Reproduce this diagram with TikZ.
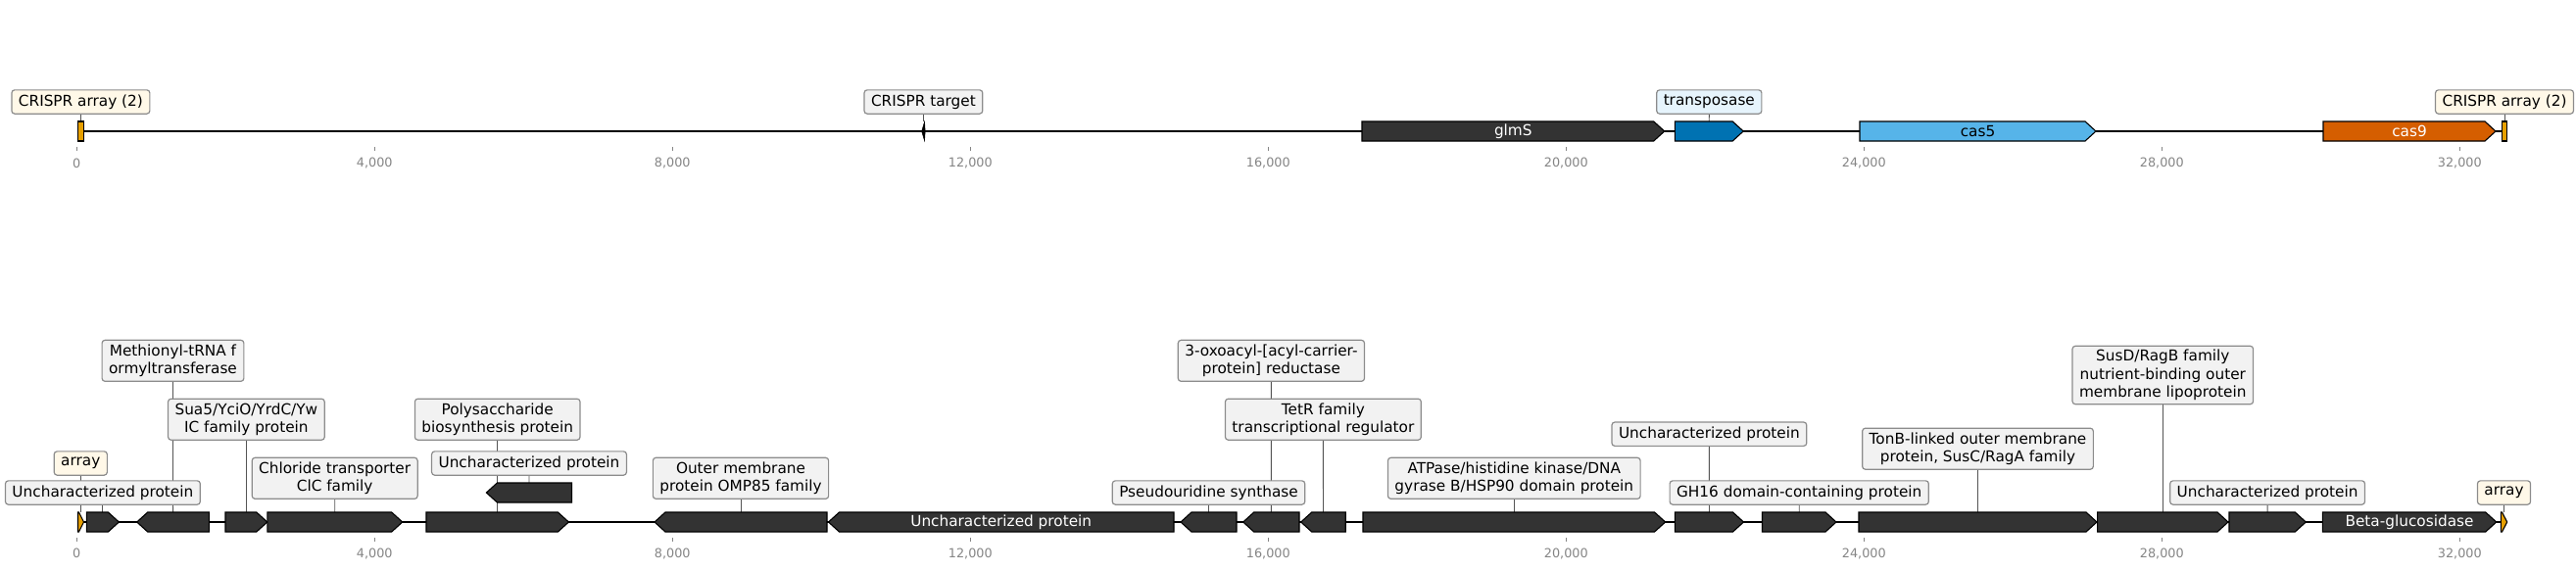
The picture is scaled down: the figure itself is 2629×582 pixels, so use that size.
\documentclass[tikz,border=0pt]{standalone}
\usepackage{fontspec}
\setmainfont{DejaVu Sans}
\usetikzlibrary{backgrounds}
\definecolor{gdark}{HTML}{333333}
\definecolor{corange}{HTML}{E69F00}
\definecolor{cblue}{HTML}{0072B2}
\definecolor{csky}{HTML}{56B4E9}
\definecolor{cverm}{HTML}{D55E00}
\definecolor{labfill}{HTML}{F2F2F2}
\definecolor{labcream}{HTML}{FFF8E8}
\definecolor{labblue}{HTML}{E6F4FC}
\definecolor{labedge}{HTML}{8C8C8C}
\definecolor{conncol}{HTML}{555555}
\definecolor{tickcol}{HTML}{858585}
\newcommand\lfont{\fontsize{15.3pt}{18.4pt}\selectfont}
\newcommand\tfont{\fontsize{12.8pt}{14pt}\selectfont}
\newcommand\geneR[5]{%
  \pgfmathsetmacro\ghead{min(11,#3-#2)}%
  \filldraw[genebox,fill=#5] (#2,#4-10) -- (#3-\ghead,#4-10) -- (#3,#4) -- (#3-\ghead,#4+10) -- (#2,#4+10) -- cycle;
  \coordinate (#1) at ({(#2+#3)/2},#4-10);}
\newcommand\geneL[5]{%
  \pgfmathsetmacro\ghead{min(11,#3-#2)}%
  \filldraw[genebox,fill=#5] (#3,#4-10) -- (#2+\ghead,#4-10) -- (#2,#4) -- (#2+\ghead,#4+10) -- (#3,#4+10) -- cycle;
  \coordinate (#1) at ({(#2+#3)/2},#4-10);}
\newcommand\geneB[5]{%
  \filldraw[genebox,fill=#5] (#2,#4-10) rectangle (#3,#4+10);
  \coordinate (#1) at ({(#2+#3)/2},#4-10);}
\tikzset{
  genebox/.style={draw=black, line width=1.1pt, line join=miter},
  genetext/.style={font=\lfont, inner sep=0pt},
  lab/.style={draw=labedge, fill=labfill, rounded corners=3pt, line width=1.2pt,
    inner xsep=7pt, inner ysep=0pt, align=center, font=\lfont},
  labone/.style={lab, minimum height=24.3pt},
  labtwo/.style={lab, minimum height=42pt},
  labthree/.style={lab, minimum height=59.4pt},
  conn/.style={draw=conncol, line width=0.9pt},
  track/.style={draw=black, line width=2.7pt},
  tickmark/.style={draw=tickcol, line width=0.8pt},
  ticklab/.style={font=\tfont, text=tickcol, inner sep=0pt}
}
\begin{document}
\begin{tikzpicture}[x=1pt,y=-1pt]
\useasboundingbox (0,0) rectangle (2629,582);

% ---------------- top track ----------------
\coordinate (ts) at (79,134);
\coordinate (te) at (2556,134);
\begin{scope}[on background layer]
\draw[track] (ts) -- (te);
\end{scope}
\geneB{tA}{79.5}{85.3}{134}{corange}
\filldraw[black] (943.6,124) -- (940.6,134) -- (943.6,144) -- (944.2,134) -- cycle;
\coordinate (tT) at (942.4,124);
\geneR{tG}{1390}{1698.7}{134}{gdark}
\geneR{tTr}{1709.3}{1779.2}{134}{cblue}
\geneR{tC5}{1898}{2139}{134}{csky}
\geneR{tC9}{2371}{2547}{134}{cverm}
\geneB{tB}{2553.5}{2558.5}{134}{corange}
\node[genetext,text=white] (tGt) at (1544.3,134) {glmS};
\node[genetext,text=black] (tC5t) at (2018.5,134) {cas5};
\node[genetext,text=white] (tC9t) at (2459,134) {cas9};

\node[labone,fill=labcream] (ltA) at (82.4,104) {CRISPR array (2)};
\node[labone] (ltT) at (942.4,104) {CRISPR target};
\node[labone,fill=labblue] (ltTr) at (1744.3,104) {transposase};
\node[labone,fill=labcream] (ltB) at (2556,104) {CRISPR array (2)};
\begin{scope}[on background layer]
\draw[conn] (ltA.south) -- (tA);
\draw[conn] (ltT.south) -- (tT);
\draw[conn] (ltTr.south) -- (tTr);
\draw[conn] (ltB.south) -- (tB);
\end{scope}

% ticks
\foreach \k/\lab in {0/0,1/{4,000},2/{8,000},3/{12,000},4/{16,000},5/{20,000},6/{24,000},7/{28,000},8/{32,000}}{
  \draw[tickmark] (78.3+304*\k,150) -- (78.3+304*\k,154);
  \node[ticklab] (tl\k) at (78.3+304*\k,166.7) {\lab};
  \draw[tickmark] (78.3+304*\k,549) -- (78.3+304*\k,553);
  \node[ticklab] (bl\k) at (78.3+304*\k,565) {\lab};
}

% ---------------- bottom track ----------------
\coordinate (bs) at (79,533);
\coordinate (be) at (2556,533);
\begin{scope}[on background layer]
\draw[track] (bs) -- (be);
\end{scope}
\filldraw[genebox,fill=corange] (79.5,523) -- (80.5,523) -- (85.5,533) -- (80.5,543) -- (79.5,543) -- cycle;
\coordinate (bA) at (82.3,523);
\geneR{g1}{88.4}{121.4}{533}{gdark}
\geneL{g2}{139.7}{213.4}{533}{gdark}
\geneR{g3}{230}{272.8}{533}{gdark}
\geneR{g4}{272.8}{410.7}{533}{gdark}
\geneR{g5}{435}{580.4}{533}{gdark}
\geneL{g5b}{496.4}{583.5}{503}{gdark}
\geneL{g6}{668}{844}{533}{gdark}
\geneL{g7}{845.5}{1198}{533}{gdark}
\geneL{g8}{1205}{1262}{533}{gdark}
\geneL{g9}{1268.7}{1326}{533}{gdark}
\geneL{g10}{1327.7}{1373.2}{533}{gdark}
\geneR{g11}{1391}{1699.6}{533}{gdark}
\geneR{g12}{1709.4}{1779.5}{533}{gdark}
\geneR{g13}{1798.5}{1874}{533}{gdark}
\geneR{g14}{1897}{2140}{533}{gdark}
\geneR{g15}{2140.6}{2274}{533}{gdark}
\geneR{g16}{2275}{2353.3}{533}{gdark}
\geneR{g17}{2370.3}{2547.7}{533}{gdark}
\filldraw[genebox,fill=corange] (2552.3,523) -- (2553.5,523) -- (2558.7,533) -- (2553.5,543) -- (2552.3,543) -- cycle;
\coordinate (bB) at (2555.5,523);
\node[genetext,text=white] (g7t) at (1021.7,533) {Uncharacterized protein};
\node[genetext,text=white] (g17t) at (2459,533) {Beta-glucosidase};

\node[labone] (l1) at (104.9,503) {Uncharacterized protein};
\node[labone,fill=labcream] (lA) at (82.3,473) {array};
\node[labtwo] (l2) at (176.5,368.3) {Methionyl-tRNA f\\ormyltransferase};
\node[labtwo] (l3) at (251.4,428.2) {Sua5/YciO/YrdC/Yw\\IC family protein};
\node[labtwo] (l4) at (341.7,488.3) {Chloride transporter\\ClC family};
\node[labtwo] (l5) at (507.7,428.2) {Polysaccharide\\biosynthesis protein};
\node[labone] (l5b) at (540,473) {Uncharacterized protein};
\node[labtwo] (l6) at (756,488.3) {Outer membrane\\protein OMP85 family};
\node[labone] (l8) at (1233.5,503) {Pseudouridine synthase};
\node[labtwo] (l9) at (1297.4,368.3) {3-oxoacyl-[acyl-carrier-\\protein] reductase};
\node[labtwo] (l10) at (1350.4,428.2) {TetR family\\transcriptional regulator};
\node[labtwo] (l11) at (1545.3,488.3) {ATPase/histidine kinase/DNA\\gyrase B/HSP90 domain protein};
\node[labone] (l12) at (1744.4,443.2) {Uncharacterized protein};
\node[labone] (l13) at (1836.2,503) {GH16 domain-containing protein};
\node[labtwo] (l14) at (2018.5,458.2) {TonB-linked outer membrane\\protein, SusC/RagA family};
\node[labthree] (l15) at (2207.3,383) {SusD/RagB family\\nutrient-binding outer\\membrane lipoprotein};
\node[labone] (l16) at (2314.1,503) {Uncharacterized protein};
\node[labone,fill=labcream] (lB) at (2555.5,503) {array};

\begin{scope}[on background layer]
\draw[conn] (l1.south) -- (g1);
\draw[conn] (lA.south) -- (bA);
\draw[conn] (l2.south) -- (g2);
\draw[conn] (l3.south) -- (g3);
\draw[conn] (l4.south) -- (g4);
\draw[conn] (l5.south) -- (g5);
\draw[conn] (l5b.south) -- (g5b);
\draw[conn] (l6.south) -- (g6);
\draw[conn] (l8.south) -- (g8);
\draw[conn] (l9.south) -- (g9);
\draw[conn] (l10.south) -- (g10);
\draw[conn] (l11.south) -- (g11);
\draw[conn] (l12.south) -- (g12);
\draw[conn] (l13.south) -- (g13);
\draw[conn] (l14.south) -- (g14);
\draw[conn] (l15.south) -- (g15);
\draw[conn] (l16.south) -- (g16);
\draw[conn] (lB.south) -- (bB);
\end{scope}
\end{tikzpicture}
\end{document}
